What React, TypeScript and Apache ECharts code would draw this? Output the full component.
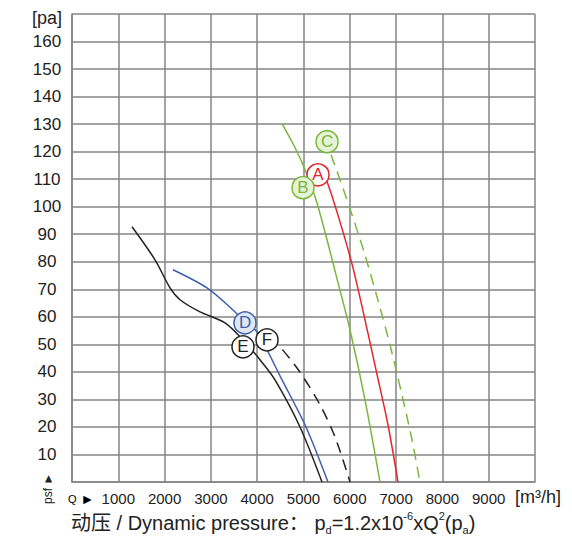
import React, { useEffect, useRef } from "react";
import * as echarts from "echarts";

// ---- data ----
const xTicks = [1000, 2000, 3000, 4000, 5000, 6000, 7000, 8000, 9000];
const yTicks = [10, 20, 30, 40, 50, 60, 70, 80, 90, 100, 110, 120, 130, 140, 150, 160];

const curveA = [[5420, 110.5], [5508, 109.1], [5788, 94.5], [6069, 77.8], [6328, 58.9], [6566, 40.7], [6825, 20.7], [7041, 0]];
const curveB = [[4536, 130.2], [4816, 121.5], [5032, 113.5], [5270, 102.5], [5508, 88.0], [5745, 72.4], [6004, 55.3], [6328, 29.8], [6652, 0]];
const curveC = [[5594, 118.9], [5788, 109.8], [6048, 97.1], [6307, 83.6], [6587, 67.3], [6868, 49.8], [7127, 31.6], [7343, 15.3], [7516, 0]];
const curveD = [[2181, 77.1], [2916, 70.5], [3477, 62.5], [3737, 58.2], [3996, 54.5], [4536, 37.1], [5054, 20], [5529, 0]];
const curveE = [[1296, 92.7], [1793, 80.7], [2117, 70.5], [2333, 66.2], [2765, 61.8], [3305, 57.8], [3693, 51.6], [4060, 44.4], [4384, 37.1], [4924, 20], [5400, 0]];
const curveF = [[4276, 52.7], [4514, 48.7], [4903, 40.4], [5335, 28.7], [5680, 16.4], [6004, 0]];

const markerNames = ["A", "B", "C", "D", "E", "F"];
const markerPos = [[5313, 111.6], [4989, 106.9], [5508, 123.6], [3737, 57.8], [3693, 49.1], [4212, 51.6]];

const RED = "#e3262c";
const GREEN = "#78b83c";
const BLUE = "#3d5fab";
const BLACK = "#222222";
const markerStroke = [RED, GREEN, GREEN, BLUE, BLACK, BLACK];
const markerFill = ["#ffffff", "#e6f3d6", "#e6f3d6", "#dfe7f5", "#ffffff", "#ffffff"];

const FONT = "'Liberation Sans', Arial, 'Noto Sans CJK SC', sans-serif";

export default function App() {
  const ref = useRef<HTMLDivElement>(null);
  useEffect(() => {
    if (!ref.current) return;
    const chart = echarts.init(ref.current, undefined, { renderer: "svg" });
    const line = (data: number[][], color: string, dashed: boolean) => ({
      type: "line",
      data,
      smooth: 0.3,
      showSymbol: false,
      symbol: "none",
      lineStyle: { color, width: 1.5, type: dashed ? [11, 7] : "solid" },
      z: 3,
    });
    chart.setOption({
      animation: false,
      backgroundColor: "#ffffff",
      grid: { left: 72, right: 37, top: 14, bottom: 65 },
      xAxis: {
        type: "value",
        min: 0,
        max: 10000,
        interval: 1000,
        axisLine: { show: true, lineStyle: { color: "#858585", width: 1.5 } },
        axisTick: { show: false },
        splitLine: { show: true, lineStyle: { color: "#858585", width: 1.5 } },
        axisLabel: {
          margin: 9,
          color: "#222",
          fontSize: 15,
          fontFamily: FONT,
          formatter: (v: number) => (xTicks.includes(v) ? String(v) : ""),
        },
      },
      yAxis: {
        type: "value",
        min: 0,
        max: 170,
        interval: 10,
        axisLine: { show: true, lineStyle: { color: "#858585", width: 1.5 } },
        axisTick: { show: false },
        splitLine: { show: true, lineStyle: { color: "#858585", width: 1.5 } },
        axisLabel: {
          margin: 25,
          align: "center",
          color: "#222",
          fontSize: 17,
          fontFamily: FONT,
          formatter: (v: number) => (yTicks.includes(v) ? String(v) : ""),
        },
      },
      series: [
        line(curveA, RED, false),
        line(curveB, GREEN, false),
        line(curveC, GREEN, true),
        line(curveD, BLUE, false),
        line(curveE, BLACK, false),
        line(curveF, BLACK, true),
        {
          type: "scatter",
          z: 10,
          symbol: "circle",
          symbolSize: 22,
          data: markerPos.map((p, i) => ({
            value: p,
            name: markerNames[i],
            itemStyle: { color: markerFill[i], borderColor: markerStroke[i], borderWidth: 1.5, opacity: 1 },
            label: {
              show: true,
              position: "inside",
              formatter: markerNames[i],
              color: markerStroke[i],
              fontSize: 17,
              fontFamily: FONT,
            },
          })),
        },
      ],
      graphic: [
        {
          type: "text",
          style: { text: "[pa]", x: 47, y: 18, align: "center", verticalAlign: "middle", font: `18px ${FONT}`, fill: "#222" },
        },
        {
          type: "text",
          style: { text: "[m³/h]", x: 515, y: 497, align: "left", verticalAlign: "middle", font: `18px ${FONT}`, fill: "#222" },
        },
        {
          type: "text",
          style: {
            text: "{q|Q}{t| ►}",
            x: 68,
            y: 499,
            align: "left",
            verticalAlign: "middle",
            rich: {
              q: { fontSize: 11, fontFamily: FONT, color: "#222" },
              t: { fontSize: 14, fontFamily: FONT, color: "#222" },
            },
          },
        },
        {
          type: "text",
          x: 48,
          y: 504,
          rotation: Math.PI / 2,
          style: { text: "psf ►", x: 0, y: 0, align: "left", verticalAlign: "middle", font: `12px ${FONT}`, fill: "#222" },
        },
        {
          type: "text",
          style: {
            x: 71,
            y: 523,
            align: "left",
            verticalAlign: "middle",
            fill: "#222",
            text:
              "{n|动压 / Dynamic pressure：}{n| p}{sub|d}{n|=1.2x10}{sup|-6}{n|xQ}{sup|2}{n|(p}{sub|a}{n|)}",
            rich: {
              n: { fontSize: 20, fontFamily: FONT, lineHeight: 25, color: "#222" },
              sub: { fontSize: 11, fontFamily: FONT, verticalAlign: "bottom", color: "#222" },
              sup: { fontSize: 11, fontFamily: FONT, verticalAlign: "top", color: "#222" },
            },
          },
        },
      ],
    });
    return () => chart.dispose();
  }, []);
  return <div ref={ref} style={{ position: "absolute", left: 0, top: 0, width: 572, height: 547 }} />;
}
